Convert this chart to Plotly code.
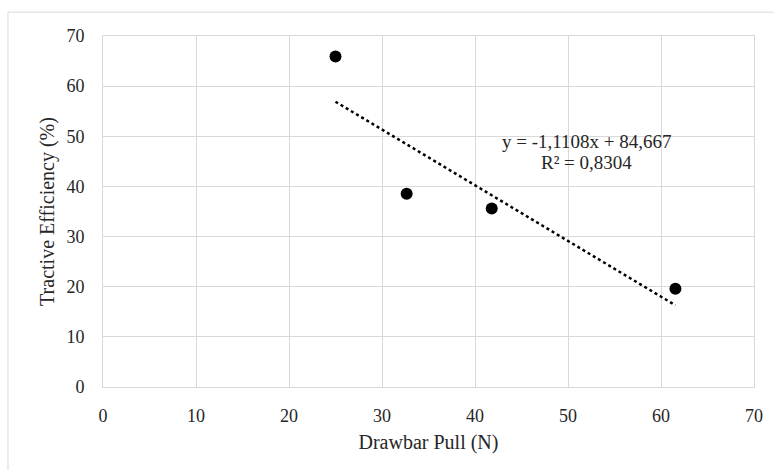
import plotly.graph_objects as go

drawbar_pull = [25.0, 32.65, 41.8, 61.55]
tractive_eff = [65.9, 38.55, 35.6, 19.6]
slope = -1.1108
intercept = 84.667
equation_lines = ["y = -1,1108x + 84,667", "R² = 0,8304"]
x_title = "Drawbar Pull (N)"
y_title = "Tractive Efficiency (%)"

trend_x = [min(drawbar_pull), max(drawbar_pull)]
trend_y = [slope * v + intercept for v in trend_x]

font_family = "Liberation Serif, Times New Roman, serif"

fig = go.Figure()
fig.add_trace(go.Scatter(x=trend_x, y=trend_y, mode="lines",
                         line=dict(color="black", width=2.5, dash="dot"),
                         showlegend=False, hoverinfo="skip"))
fig.add_trace(go.Scatter(x=drawbar_pull, y=tractive_eff, mode="markers",
                         marker=dict(color="black", size=12),
                         showlegend=False))

for txt, yv in zip(equation_lines, [48.9, 44.7]):
    fig.add_annotation(x=52.0, y=yv, xref="x", yref="y", text=txt,
                       showarrow=False, font=dict(family=font_family, size=19, color="#262626"),
                       xanchor="center", yanchor="middle")

fig.add_shape(type="rect", xref="paper", yref="paper",
              x0=-0.146, x1=1.2, y0=-0.4, y1=1.068,
              line=dict(color="#d9d9d9", width=1), fillcolor="rgba(0,0,0,0)", layer="below")

axis_common = dict(showgrid=True, gridcolor="#d9d9d9", gridwidth=1,
                   showline=True, linecolor="#d9d9d9", linewidth=1, mirror=True,
                   zeroline=False, ticks="", range=[0, 70], dtick=10,
                   tickfont=dict(family=font_family, size=18, color="#262626"))

fig.update_layout(
    width=774, height=470,
    margin=dict(l=103, r=20, t=36, b=83),
    paper_bgcolor="white", plot_bgcolor="white",
    xaxis=dict(**axis_common, ticklabelstandoff=12,
               title=dict(text=x_title, font=dict(family=font_family, size=20, color="#262626"), standoff=10)),
    yaxis=dict(**axis_common, ticklabelstandoff=14,
               title=dict(text=y_title, font=dict(family=font_family, size=20, color="#262626"), standoff=6)),
)

fig.write_html("out.html", config={"displayModeBar": False},
               post_script="document.body.style.margin='0px';document.body.style.overflow='hidden';")
